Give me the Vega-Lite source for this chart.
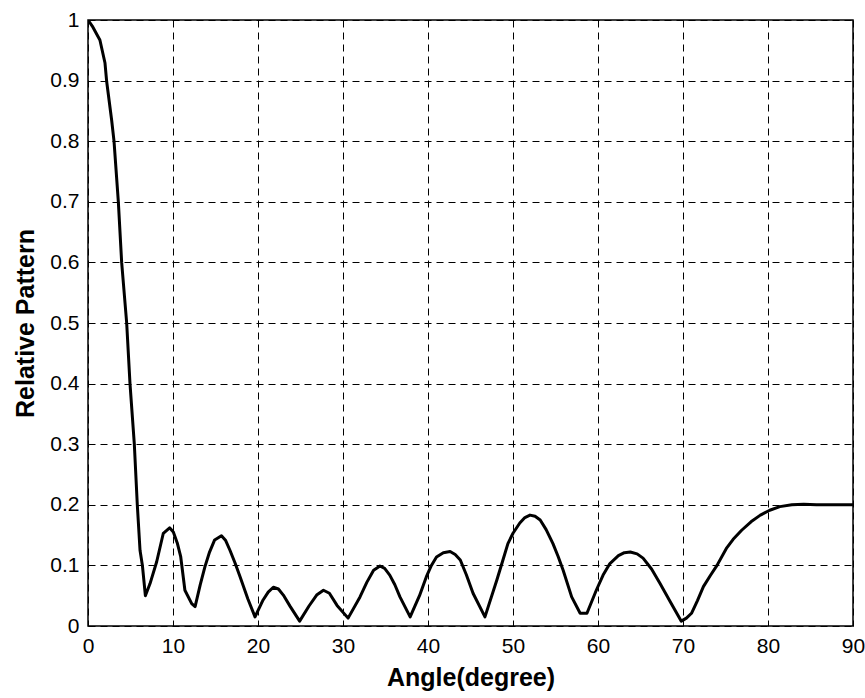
{
  "$schema": "https://vega.github.io/schema/vega-lite/v6.json",
  "autosize": {"type": "none"},
  "width": 765,
  "height": 606,
  "padding": {"left": 88, "top": 20, "right": 12, "bottom": 72},
  "background": "white",
  "config": {
    "view": {"stroke": "black", "strokeWidth": 1.5},
    "axis": {
      "labelFont": "Liberation Sans",
      "labelFontSize": 21,
      "labelColor": "#000",
      "titleFont": "Liberation Sans",
      "titleFontSize": 25,
      "titleFontWeight": "bold",
      "titleColor": "#000",
      "grid": true,
      "gridColor": "#000",
      "gridDash": [7, 5],
      "gridWidth": 1,
      "gridOpacity": 1,
      "ticks": false,
      "domain": false
    }
  },
  "data": {
    "values": [
      {"angle": 0, "pattern": 1.0},
      {"angle": 0.5, "pattern": 0.99},
      {"angle": 1.4, "pattern": 0.967},
      {"angle": 2.0, "pattern": 0.929},
      {"angle": 2.2, "pattern": 0.898},
      {"angle": 2.78, "pattern": 0.835},
      {"angle": 3.06, "pattern": 0.8},
      {"angle": 3.57, "pattern": 0.7},
      {"angle": 3.96, "pattern": 0.6},
      {"angle": 4.55, "pattern": 0.5},
      {"angle": 4.94, "pattern": 0.4},
      {"angle": 5.45, "pattern": 0.3},
      {"angle": 5.8, "pattern": 0.2},
      {"angle": 6.12, "pattern": 0.125},
      {"angle": 6.4, "pattern": 0.1},
      {"angle": 6.75, "pattern": 0.05},
      {"angle": 7.3, "pattern": 0.07},
      {"angle": 8.08, "pattern": 0.106},
      {"angle": 8.86, "pattern": 0.153},
      {"angle": 9.6, "pattern": 0.162},
      {"angle": 10.04, "pattern": 0.155},
      {"angle": 10.5, "pattern": 0.137},
      {"angle": 10.9, "pattern": 0.115},
      {"angle": 11.4, "pattern": 0.059},
      {"angle": 12.2, "pattern": 0.037},
      {"angle": 12.6, "pattern": 0.032},
      {"angle": 13.2, "pattern": 0.068},
      {"angle": 13.76, "pattern": 0.098},
      {"angle": 14.3, "pattern": 0.122},
      {"angle": 14.9, "pattern": 0.142},
      {"angle": 15.7, "pattern": 0.149},
      {"angle": 16.2, "pattern": 0.141},
      {"angle": 16.7, "pattern": 0.125},
      {"angle": 17.3, "pattern": 0.104},
      {"angle": 17.9, "pattern": 0.081},
      {"angle": 18.8, "pattern": 0.045},
      {"angle": 19.65, "pattern": 0.015},
      {"angle": 20.6, "pattern": 0.043},
      {"angle": 21.2, "pattern": 0.056},
      {"angle": 21.8, "pattern": 0.064},
      {"angle": 22.4, "pattern": 0.061},
      {"angle": 22.98, "pattern": 0.051},
      {"angle": 23.8, "pattern": 0.032},
      {"angle": 24.9, "pattern": 0.008},
      {"angle": 26.0, "pattern": 0.033},
      {"angle": 26.9, "pattern": 0.051},
      {"angle": 27.7, "pattern": 0.059},
      {"angle": 28.4, "pattern": 0.054},
      {"angle": 29.3, "pattern": 0.034},
      {"angle": 30.6, "pattern": 0.013},
      {"angle": 32.0, "pattern": 0.048},
      {"angle": 32.8, "pattern": 0.072},
      {"angle": 33.6, "pattern": 0.092},
      {"angle": 34.35, "pattern": 0.099},
      {"angle": 34.9, "pattern": 0.095},
      {"angle": 35.5, "pattern": 0.084},
      {"angle": 36.1, "pattern": 0.068},
      {"angle": 36.7, "pattern": 0.048},
      {"angle": 37.9, "pattern": 0.015},
      {"angle": 39.0, "pattern": 0.05},
      {"angle": 39.8, "pattern": 0.081},
      {"angle": 40.4, "pattern": 0.1},
      {"angle": 41.0, "pattern": 0.114},
      {"angle": 41.8, "pattern": 0.121},
      {"angle": 42.6, "pattern": 0.123},
      {"angle": 43.2, "pattern": 0.118},
      {"angle": 43.8, "pattern": 0.109},
      {"angle": 44.5, "pattern": 0.085},
      {"angle": 45.3, "pattern": 0.054},
      {"angle": 46.7, "pattern": 0.015},
      {"angle": 48.1, "pattern": 0.076},
      {"angle": 48.8, "pattern": 0.108},
      {"angle": 49.4, "pattern": 0.136},
      {"angle": 50.0, "pattern": 0.153},
      {"angle": 50.8, "pattern": 0.17},
      {"angle": 51.4, "pattern": 0.179},
      {"angle": 52.0, "pattern": 0.183},
      {"angle": 52.6, "pattern": 0.181},
      {"angle": 53.2, "pattern": 0.175},
      {"angle": 53.9, "pattern": 0.159},
      {"angle": 54.7, "pattern": 0.136},
      {"angle": 55.3, "pattern": 0.115},
      {"angle": 55.9, "pattern": 0.092},
      {"angle": 56.9, "pattern": 0.048},
      {"angle": 57.9, "pattern": 0.021},
      {"angle": 58.7, "pattern": 0.021},
      {"angle": 59.8, "pattern": 0.059},
      {"angle": 60.6, "pattern": 0.084},
      {"angle": 61.4, "pattern": 0.103},
      {"angle": 62.4, "pattern": 0.116},
      {"angle": 63.1, "pattern": 0.121},
      {"angle": 63.8, "pattern": 0.122},
      {"angle": 64.6, "pattern": 0.119},
      {"angle": 65.3, "pattern": 0.112},
      {"angle": 66.3, "pattern": 0.094},
      {"angle": 67.3, "pattern": 0.07},
      {"angle": 68.5, "pattern": 0.04},
      {"angle": 69.8, "pattern": 0.008},
      {"angle": 70.4, "pattern": 0.013},
      {"angle": 71.0, "pattern": 0.021},
      {"angle": 71.7, "pattern": 0.042},
      {"angle": 72.4, "pattern": 0.065},
      {"angle": 73.2, "pattern": 0.083},
      {"angle": 74.0, "pattern": 0.1},
      {"angle": 75.1, "pattern": 0.128},
      {"angle": 75.9, "pattern": 0.143},
      {"angle": 76.9, "pattern": 0.158},
      {"angle": 78.0, "pattern": 0.172},
      {"angle": 79.1, "pattern": 0.183},
      {"angle": 80.2, "pattern": 0.191},
      {"angle": 81.4, "pattern": 0.197},
      {"angle": 82.8, "pattern": 0.2},
      {"angle": 84.2, "pattern": 0.201},
      {"angle": 85.7, "pattern": 0.2},
      {"angle": 90, "pattern": 0.2}
    ]
  },
  "mark": {"type": "line", "color": "#000", "strokeWidth": 3, "clip": true, "strokeJoin": "round"},
  "encoding": {
    "x": {
      "field": "angle",
      "type": "quantitative",
      "scale": {"domain": [0, 90], "nice": false, "zero": false},
      "axis": {
        "title": "Angle(degree)",
        "values": [0, 10, 20, 30, 40, 50, 60, 70, 80, 90],
        "labelPadding": 9,
        "labelFlush": false,
        "titleBaseline": "alphabetic",
        "titleY": 59
      }
    },
    "y": {
      "field": "pattern",
      "type": "quantitative",
      "scale": {"domain": [0, 1], "nice": false},
      "axis": {
        "title": "Relative Pattern",
        "values": [0, 0.1, 0.2, 0.3, 0.4, 0.5, 0.6, 0.7, 0.8, 0.9, 1],
        "format": ".1~f",
        "labelPadding": 9,
        "labelFlush": false,
        "titleBaseline": "alphabetic",
        "titleX": -55
      }
    }
  }
}
